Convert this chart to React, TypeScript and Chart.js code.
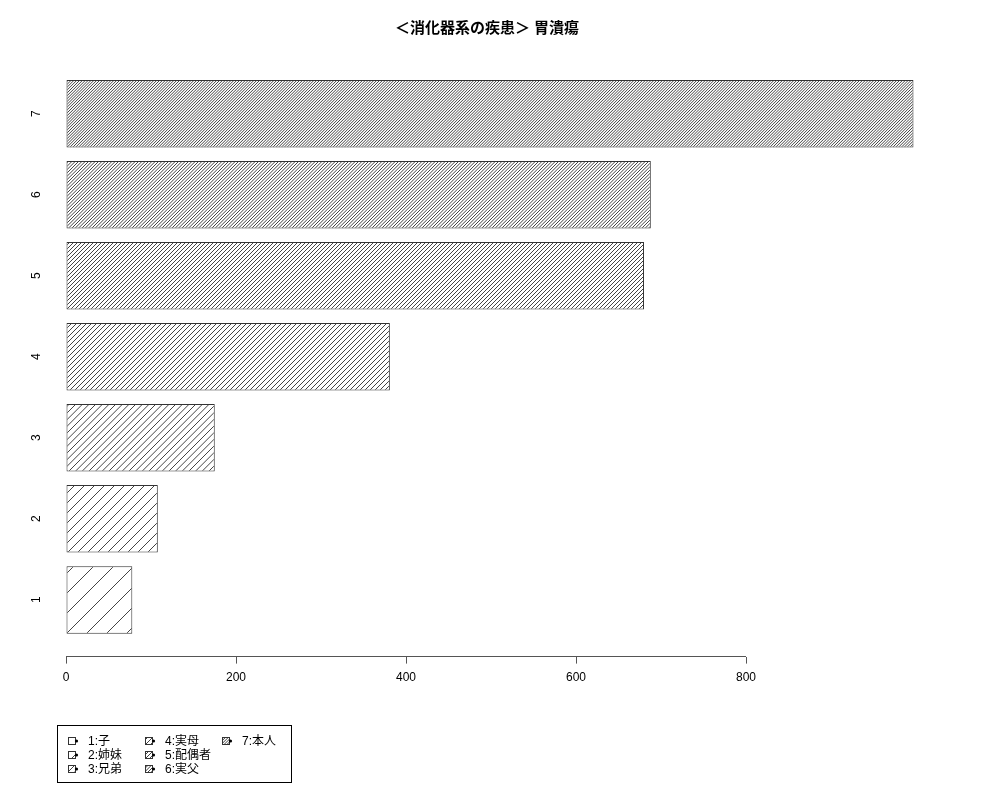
import { useEffect, useRef } from 'react';
import { Chart, registerables } from 'chart.js';

Chart.register(...registerables);

const title = '＜消化器系の疾患＞ 胃潰瘍';
const categories = ['1', '2', '3', '4', '5', '6', '7'];
const counts = [78, 108, 175, 381, 680, 688, 997];
const legendLabels = ['1:子', '2:姉妹', '3:兄弟', '4:実母', '5:配偶者', '6:実父', '7:本人'];
const xTicks = [0, 200, 400, 600, 800];

const FONT = '"Liberation Sans", "Noto Sans CJK JP", sans-serif';

// diagonal hatch tile, more lines per tile = denser hatching
function makeHatch(lines: number): CanvasPattern | string {
  const size = 20;
  const tile = document.createElement('canvas');
  tile.width = size;
  tile.height = size;
  const ctx = tile.getContext('2d');
  if (!ctx) return '#fff';
  ctx.fillStyle = '#fff';
  ctx.fillRect(0, 0, size, size);
  ctx.strokeStyle = '#444';
  ctx.lineWidth = 1;
  for (let j = -1; j <= 2 * lines + 1; j++) {
    const c = (j * size) / lines;
    ctx.beginPath();
    ctx.moveTo(c + 2, -2);
    ctx.lineTo(-2, c + 2);
    ctx.stroke();
  }
  return ctx.createPattern(tile, 'repeat') ?? '#fff';
}

export default function App() {
  const chartRef = useRef<HTMLCanvasElement>(null);
  const chartInstance = useRef<Chart | null>(null);

  useEffect(() => {
    document.body.style.margin = '0';
    if (!chartRef.current) return;

    if (chartInstance.current) {
      chartInstance.current.destroy();
    }

    const patterns = categories.map((_, i) => makeHatch(i + 1));

    // R-style x axis line, only from first to last tick
    const axisLine = {
      id: 'axisLine',
      afterDraw(chart: any) {
        const { ctx, chartArea, scales } = chart;
        const x0 = scales.x.getPixelForValue(xTicks[0]);
        const x1 = scales.x.getPixelForValue(xTicks[xTicks.length - 1]);
        const y = Math.round(chartArea.bottom) - 0.5;
        ctx.save();
        ctx.strokeStyle = '#555';
        ctx.lineWidth = 1;
        ctx.beginPath();
        ctx.moveTo(x0, y);
        ctx.lineTo(x1, y);
        ctx.stroke();
        ctx.restore();
      },
    };

    // boxed legend laid out in columns like R's legend(ncol = 3)
    const boxLegend = {
      id: 'boxLegend',
      afterDraw(chart: any) {
        const { ctx } = chart;
        ctx.save();
        ctx.strokeStyle = '#000';
        ctx.lineWidth = 1;
        ctx.strokeRect(57.5, 725.5, 234, 57);
        ctx.font = '12px ' + FONT;
        ctx.textBaseline = 'middle';
        legendLabels.forEach((label, i) => {
          const col = Math.floor(i / 3);
          const row = i % 3;
          const sx = 68 + col * 77;
          const sy = 741 + row * 14;
          ctx.fillStyle = patterns[i];
          ctx.fillRect(sx, sy - 4, 8, 8);
          ctx.strokeStyle = '#333';
          ctx.strokeRect(sx + 0.5, sy - 3.5, 7, 7);
          ctx.fillStyle = '#000';
          ctx.beginPath();
          ctx.arc(sx + 8.5, sy, 1.6, 0, Math.PI * 2);
          ctx.fill();
          ctx.fillText(label, sx + 20, sy + 0.5);
        });
        ctx.restore();
      },
    };

    chartInstance.current = new Chart(chartRef.current, {
      type: 'bar',
      data: {
        datasets: [
          {
            label: title,
            data: counts.map((v, i) => ({ x: v, y: Number(categories[i]) })),
            backgroundColor: patterns as any,
            borderColor: '#333',
            borderWidth: 1,
            borderSkipped: false,
            barPercentage: 1,
            categoryPercentage: 0.833,
          },
        ],
      },
      options: {
        indexAxis: 'y',
        responsive: false,
        animation: false,
        layout: { padding: { top: 0, right: 26, bottom: 109, left: 0 } },
        plugins: {
          legend: { display: false },
          tooltip: { enabled: false },
          title: {
            display: true,
            text: title,
            color: '#000',
            font: { family: FONT, size: 15, weight: 'bold' },
            padding: { top: 20, bottom: 19 },
          },
        },
        scales: {
          x: {
            type: 'linear',
            min: 0,
            max: 1068.2,
            afterBuildTicks: (scale: any) => {
              scale.ticks = xTicks.map((v) => ({ value: v }));
            },
            border: { display: false },
            grid: { drawOnChartArea: false, drawTicks: true, tickLength: 7, color: '#555' },
            ticks: { color: '#000', padding: 6.5, font: { family: FONT, size: 12 } },
          },
          y: {
            type: 'linear',
            offset: false,
            min: 0.3,
            max: 7.7,
            afterBuildTicks: (scale: any) => {
              scale.ticks = categories.map((c) => ({ value: Number(c) }));
            },
            afterFit: (scale: any) => {
              scale.width = 66;
            },
            border: { display: false },
            grid: { display: false },
            ticks: {
              color: '#000',
              minRotation: 90,
              maxRotation: 90,
              padding: 21,
              labelOffset: -3.5,
              font: { family: FONT, size: 12 },
              callback: (v: any) => String(v),
            },
          },
        },
      },
      plugins: [axisLine, boxLegend],
    });

    return () => {
      if (chartInstance.current) {
        chartInstance.current.destroy();
        chartInstance.current = null;
      }
    };
  }, []);

  return (
    <div style={{ width: 1000, height: 800, background: '#fff' }}>
      <canvas ref={chartRef} width={1000} height={800} style={{ width: 1000, height: 800 }} />
    </div>
  );
}
